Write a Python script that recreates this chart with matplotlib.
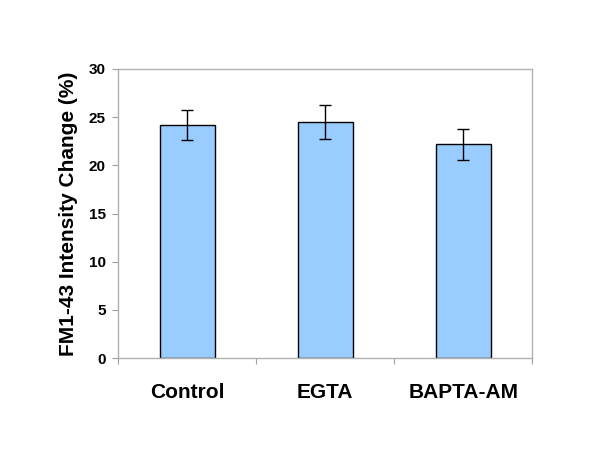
import matplotlib
matplotlib.use("Agg")
import matplotlib.pyplot as plt
import numpy as np

categories = ["Control", "EGTA", "BAPTA-AM"]
values = [24.15, 24.5, 22.2]
errors = [1.55, 1.8, 1.6]
yticks = [0, 5, 10, 15, 20, 25, 30]

plt.rcParams['font.family'] = ['Liberation Sans', 'DejaVu Sans']
plt.rcParams['font.weight'] = 'bold'

fig = plt.figure(figsize=(6, 4.5), dpi=100)
ax = fig.add_axes([0.197, 0.2044, 0.69, 0.6423])

x = np.arange(len(categories))
ax.bar(x, values, width=0.4, color='#99ccff', edgecolor='black', linewidth=1.0, zorder=2)
ax.errorbar(x, values, yerr=errors, fmt='none', ecolor='black', elinewidth=1.0,
            capsize=4, capthick=1.0, zorder=3)

ax.set_xlim(-0.5, 2.5)
ax.set_ylim(0, 30)
ax.set_yticks(yticks)
ax.set_yticklabels([str(t) for t in yticks], fontsize=11, fontweight='bold')
ax.set_xticks([-0.5, 0.5, 1.5, 2.5])
ax.set_xticklabels([])
ax.set_xticks(x, minor=True)
ax.set_xticklabels(categories, minor=True, fontsize=15, fontweight='bold')
ax.tick_params(axis='x', which='minor', length=0, pad=18)
ax.tick_params(axis='x', which='major', direction='out', length=4, color='#a0a0a0')
ax.tick_params(axis='y', direction='out', length=4, color='#a0a0a0', pad=5)

for s in ax.spines.values():
    s.set_color('#b0b0b0')
    s.set_linewidth(1.0)

ax.set_ylabel("FM1-43 Intensity Change (%)", fontsize=15, fontweight='bold', labelpad=8)

fig.savefig("out.png", dpi=100)
